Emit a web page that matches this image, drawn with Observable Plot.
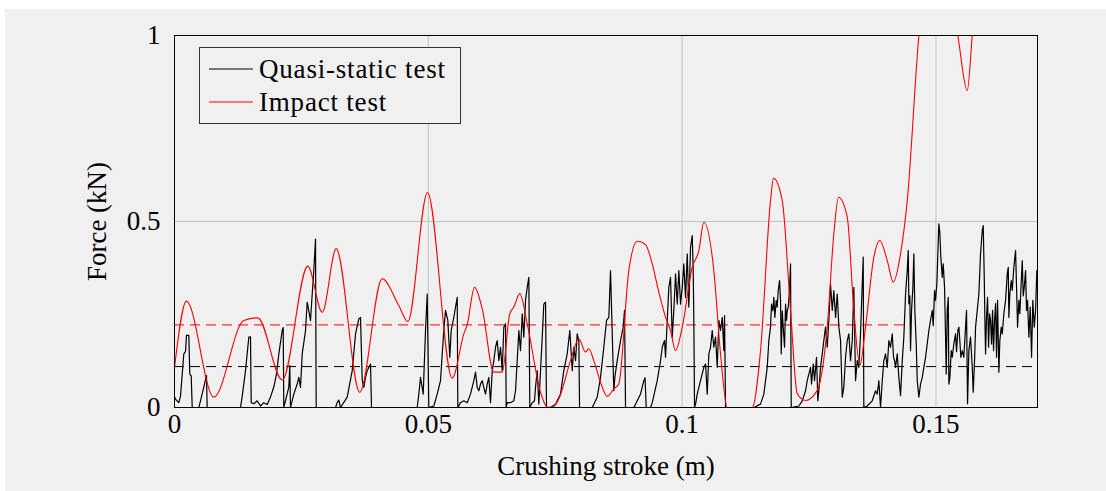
<!DOCTYPE html>
<html><head><meta charset="utf-8">
<script src="https://cdn.jsdelivr.net/npm/d3@7"></script>
<script src="https://cdn.jsdelivr.net/npm/@observablehq/plot@0.6"></script>
<style>
html,body{margin:0;padding:0;background:#fff;width:1106px;height:491px;overflow:hidden;}
#wrap{position:absolute;left:5px;top:9px;width:1101px;height:482px;background:#f0f0f0;}
#legend{position:absolute;left:194px;top:38px;width:262px;height:77px;box-sizing:border-box;border:1px solid #333;background:#f0f0f0;}
#legend svg{position:absolute;left:-1px;top:-1px;}
</style></head>
<body>
<div id="wrap"><div id="chart"></div><div id="legend"></div></div>
<script>
// Axis tick values and labels
const xTicks = [0, 0.05, 0.1, 0.15];
const yTicks = [0, 0.5, 1];
const xLabel = "Crushing stroke (m)";
const yLabel = "Force (kN)";
const seriesNames = ["Quasi-static test", "Impact test"];
const seriesColors = ["#000000", "#ff0000"];

// Quasi-static test: [stroke (mm), force (kN)]
const quasiStatic = [
[0,0.028],[0.39,0.019],[0.85,0.013],[1.18,0.03],[1.83,0.144],[2.17,0.15],[2.36,0.194],[2.82,0.194],[3.01,0.09],[3.29,0.085],
[3.49,0],[4.79,0],[5.12,0.018],[5.77,0.055],[6.30,0.086],[6.44,0],[13.00,0],[13.34,0.03],[13.99,0.099],[14.64,0.189],
[14.97,0.19],[15.11,0.013],[15.62,0.01],[16.29,0.018],[16.94,0.004],[17.59,0.013],[18.26,0.008],[18.91,0.028],[19.56,0.055],[20.09,0.09],
[20.55,0.144],[21.22,0.207],[21.41,0.215],[21.53,0],[22.52,0.055],[22.71,0.113],[22.85,0],[23.50,0.036],[24.17,0.063],[24.49,0.081],
[24.82,0.054],[25.16,0.144],[25.81,0.207],[26.14,0.283],[26.46,0.26],[26.79,0.234],[27.13,0.305],[27.44,0.368],[27.78,0.453],[27.91,0],
[31.72,0],[32.05,0.013],[32.37,0.02],[32.70,0],[34.02,0.028],[35.01,0.099],[35.66,0.198],[36.31,0.238],[36.64,0.242],[36.98,0.073],
[37.29,0.054],[37.63,0.081],[37.96,0.099],[38.61,0.117],[38.81,0],[47.81,0],[48.13,0.036],[48.46,0.081],[48.99,0.036],[49.45,0.207],
[49.78,0.305],[50.10,0],[51.08,0.004],[51.75,0.036],[52.40,0.072],[52.74,0.144],[53.05,0.207],[53.39,0.261],[53.84,0.234],[54.23,0.135],
[54.51,0.207],[55.02,0.242],[55.36,0.27],[55.69,0.296],[55.81,0],[56.34,0.013],[56.99,0.018],[57.66,0.013],[58.31,0.036],[58.96,0.072],
[59.30,0.095],[59.63,0.054],[59.95,0.045],[60.28,0.063],[60.62,0.072],[60.93,0.054],[61.27,0.036],[61.60,0.063],[61.92,0.081],[62.25,0.013],
[62.59,0.099],[62.90,0.126],[63.24,0.162],[63.57,0.180],[63.89,0.126],[64.22,0.162],[64.56,0.099],[64.87,0.216],[65.21,0.225],[65.34,0],
[65.54,0.013],[66.19,0.013],[66.84,0.018],[67.18,0.045],[67.83,0.207],[68.16,0.153],[68.50,0.252],[68.81,0.189],[69.15,0.288],[69.48,0.323],
[69.80,0.350],[69.99,0],[70.47,0.013],[70.92,0.018],[71.12,0.055],[71.45,0.099],[71.77,0.009],[72.44,0.189],[72.75,0.278],[73.09,0.283],
[73.28,0],[74.07,0],[75.06,0.009],[76.04,0.036],[76.69,0.099],[77.36,0.144],[77.87,0.207],[78.35,0.099],[78.66,0.162],[79.00,0.126],
[79.33,0.198],[79.65,0.18],[79.79,0],[82.29,0],[82.60,0.009],[83.27,0.028],[83.92,0.081],[84.57,0.162],[85.10,0.234],[85.56,0.242],
[85.89,0.368],[86.23,0.198],[86.54,0.045],[86.74,0.081],[87.21,0.126],[87.86,0.180],[88.39,0.216],[88.65,0.261],[88.85,0],[90.48,0],
[90.82,0.009],[91.80,0.036],[92.45,0.072],[92.69,0.08],[92.92,0],[93.77,0],[94.11,0.013],[95.09,0.072],[95.74,0.126],[96.08,0.162],
[96.53,0.18],[96.73,0.135],[97.06,0.234],[97.38,0.323],[97.71,0.350],[98.05,0.189],[98.36,0.261],[98.70,0.359],[99.03,0.278],[99.35,0.368],
[99.68,0.278],[100.02,0.323],[100.33,0.386],[100.67,0.296],[101.00,0.413],[101.32,0.270],[101.65,0.430],[101.99,0.462],[102.18,0.368],[102.30,0.234],
[102.44,0],[102.64,0.009],[102.97,0.036],[103.62,0.072],[104.27,0.108],[104.61,0.117],[104.94,0.036],[105.26,0.144],[105.59,0.162],[105.93,0.207],
[106.24,0.162],[106.58,0.189],[106.91,0.108],[107.23,0.234],[107.56,0.207],[107.90,0.242],[108.21,0.153],[108.35,0.247],[108.55,0],[114.12,0],
[115.44,0.009],[116.09,0.036],[116.76,0.108],[117.08,0.180],[117.41,0.216],[117.61,0.278],[117.87,0.26],[118.06,0.296],[118.26,0.242],[118.53,0.288],
[118.73,0.27],[118.93,0.314],[119.19,0.341],[119.38,0.288],[119.52,0.144],[119.72,0.26],[119.91,0.215],[120.17,0.162],[120.37,0.278],[120.56,0.234],
[120.70,0.26],[120.90,0.27],[121.10,0.305],[121.35,0.386],[121.49,0],[122.99,0.004],[123.66,0.018],[124.31,0.045],[124.64,0.072],[124.96,0.090],
[125.29,0.108],[125.49,0.063],[125.82,0.117],[126.08,0.072],[126.47,0.135],[126.73,0.018],[126.93,0.045],[127.26,0.108],[127.60,0.144],[127.91,0.180],
[128.25,0.216],[128.58,0.162],[128.90,0.234],[129.23,0.332],[129.57,0.261],[129.88,0.314],[130.22,0.242],[130.55,0.305],[130.87,0.216],[131.20,0.180],
[131.54,0.028],[131.85,0.055],[132.19,0.135],[132.52,0.180],[132.84,0.198],[133.17,0.126],[133.51,0.18],[133.82,0.323],[134.16,0.072],[134.49,0.126],
[134.81,0.108],[135.14,0.198],[135.48,0.332],[135.67,0.404],[135.79,0],[136.46,0.004],[137.45,0.018],[138.10,0.045],[138.43,0.036],[138.75,0.072],
[139.08,0],[139.42,0.072],[139.73,0.126],[140.07,0.144],[140.40,0.108],[140.72,0.180],[141.05,0.162],[141.39,0.198],[141.64,0.135],[141.84,0.126],
[142.04,0.108],[142.37,0.144],[142.69,0.081],[143.02,0.032],[143.36,0.126],[143.67,0.189],[144.01,0.305],[144.34,0.368],[144.54,0.422],[144.66,0.279],
[144.85,0.30],[144.99,0.153],[145.19,0.261],[145.45,0.323],[145.64,0.413],[145.84,0.261],[146.11,0.171],[146.31,0.072],[146.63,0.028],[146.96,0.063],
[147.30,0.081],[147.61,0.108],[147.95,0.135],[148.28,0.171],[148.60,0.207],[148.93,0.234],[149.27,0.261],[149.46,0.22],[149.72,0.315],[149.92,0.288],
[150.17,0.332],[150.37,0.413],[150.57,0.494],[150.76,0.47],[150.96,0.404],[151.24,0.350],[151.43,0.386],[151.69,0.323],[151.89,0.189],[152.02,0.09],
[152.22,0.261],[152.42,0.296],[152.54,0.063],[152.73,0.08],[153.01,0.153],[153.21,0.135],[153.52,0.171],[153.86,0.198],[154.05,0.15],[154.31,0.207],
[154.51,0.216],[154.70,0.18],[154.90,0.135],[155.18,0.153],[155.49,0.135],[155.83,0.216],[156.02,0.261],[156.22,0.010],[156.48,0.153],[156.81,0.189],
[157.15,0.108],[157.34,0.041],[157.60,0.126],[157.80,0.216],[158.13,0.261],[158.45,0.305],[158.78,0.413],[159.12,0.476],[159.31,0.489],[159.51,0.350],
[159.63,0.242],[159.77,0.144],[159.96,0.242],[160.16,0.296],[160.36,0.162],[160.56,0.252],[160.75,0.235],[160.95,0.171],[161.15,0.261],[161.34,0.153],
[161.54,0.234],[161.74,0.279],[161.93,0.135],[162.13,0.288],[162.39,0.095],[162.58,0.18],[162.86,0.216],[163.06,0.198],[163.37,0.252],[163.71,0.288],
[164.04,0.359],[164.24,0.377],[164.36,0.242],[164.55,0.305],[164.83,0.341],[165.03,0.315],[165.34,0.377],[165.68,0.422],[165.87,0.323],[166.07,0.216],
[166.33,0.288],[166.52,0.252],[166.72,0.315],[167.00,0.395],[167.19,0.30],[167.39,0.323],[167.65,0.368],[167.84,0.261],[168.04,0.288],[168.30,0.189],
[168.57,0.27],[168.83,0.135],[169.08,0.288],[169.36,0.216],[169.62,0.261],[169.87,0.368]
];

// Impact test: [stroke (mm), force (kN)]
const impact = [
[0,0.1075],[2.36,0.286],[7.74,0.028],[13.65,0.234],[16.41,0.241],[21.22,0.074],[26.26,0.380],[29.10,0.256],[31.85,0.427],[36.50,0.041],
[40.91,0.346],[44.18,0.274],[45.96,0.231],[49.84,0.578],[54.71,0.079],[56.99,0.198],[57.66,0.223],[59.10,0.323],[60.62,0.265],[62.90,0.095],
[64.56,0.095],[66.05,0.252],[66.84,0.270],[68.02,0.306],[69.48,0.225],[72.10,0.041],[73.42,0.001],[74.40,0],[75.70,0.023],[78.01,0.126],
[79.65,0.185],[80.96,0.149],[81.61,0.158],[82.60,0.126],[83.92,0.068],[85.24,0.030],[86.54,0.050],[87.53,0.064],[89.49,0.368],[91.15,0.447],
[92.79,0.438],[94.11,0.386],[95.41,0.310],[96.73,0.243],[97.71,0.207],[98.70,0.153],[100.02,0.216],[101.99,0.377],[103.29,0.422],[104.27,0.498],
[106.24,0.368],[107.56,0.144],[108.88,0],[113.80,0],[115.44,0.153],[117.41,0.556],[118.00,0.616],[119.72,0.556],[121.35,0.261],[122.67,0.037],
[124.31,0.019],[126.61,0.046],[128.58,0.216],[129.88,0.467],[130.80,0.565],[132.52,0.512],[133.82,0.261],[135.00,0.113],[136.12,0.216],[137.76,0.404],
[138.94,0.449],[140.40,0.395],[141.58,0.337],[143.02,0.413],[144.34,0.556],[146.63,1.0],[149.92,1.30],[154.30,1.0],[156.16,0.852],[157.15,1.0],
[159.76,1.4]
];

// Mean force levels (kN) and their stroke extents (m)
const meanForce = [0.110, 0.222];
const meanFrom = [0, 0];
const meanTo = [0.17, 0.1446];

const toRows = (arr) => arr.map(([mm, kn]) => ({stroke: mm / 1000, force: kn}));
const staticRows = toRows(quasiStatic);
const impactRows = toRows(impact);
const meanRows = meanForce.map((f, i) => ({force: f, from: meanFrom[i], to: meanTo[i], color: seriesColors[i]}));

const fmt = d => String(d);
const font = "'Liberation Serif', 'Times New Roman', serif";

const chart = Plot.plot({
  width: 1101, height: 482,
  marginLeft: 169, marginRight: 69, marginTop: 26, marginBottom: 84,
  style: {background: "transparent", fontFamily: font, fontSize: "27px", color: "black", overflow: "visible"},
  x: {domain: [0, 0.17]},
  y: {domain: [0, 1]},
  marks: [
    Plot.gridX(xTicks, {stroke: "#c4c4c4", strokeOpacity: 1}),
    Plot.gridY(yTicks, {stroke: "#c4c4c4", strokeOpacity: 1}),
    Plot.ruleY(meanRows, {y: "force", x1: "from", x2: "to", stroke: "color", strokeDasharray: "10,6", strokeWidth: 1}),
    Plot.line(staticRows, {x: "stroke", y: "force", stroke: seriesColors[0], strokeWidth: 1.2, clip: true}),
    Plot.line(impactRows, {x: "stroke", y: "force", stroke: seriesColors[1], strokeWidth: 1.1, curve: "monotone-x", clip: true}),
    Plot.frame({stroke: "black", strokeWidth: 1}),
    Plot.axisX({ticks: xTicks, tickFormat: fmt, tickSize: 0, tickPadding: 6, label: xLabel, labelAnchor: "center", labelOffset: 67, labelArrow: "none"}),
    Plot.axisY({ticks: yTicks, tickFormat: fmt, tickSize: 0, tickPadding: 14, label: yLabel, labelAnchor: "center", labelOffset: 88, labelArrow: "none"})
  ]
});
document.getElementById("chart").appendChild(chart);

// Legend
const lg = d3.select("#legend").append("svg").attr("width", 262).attr("height", 77)
  .style("font-family", font).style("font-size", "27px");
const rowsY = [22, 55];
seriesNames.forEach((name, i) => {
  lg.append("line").attr("x1", 10).attr("x2", 54).attr("y1", rowsY[i]).attr("y2", rowsY[i])
    .attr("stroke", seriesColors[i]).attr("stroke-width", 1);
  lg.append("text").attr("x", 60).attr("y", rowsY[i]).attr("dy", "0.35em")
    .attr("fill", "black").style("letter-spacing", "0.8px").text(name);
});
</script>
</body></html>
